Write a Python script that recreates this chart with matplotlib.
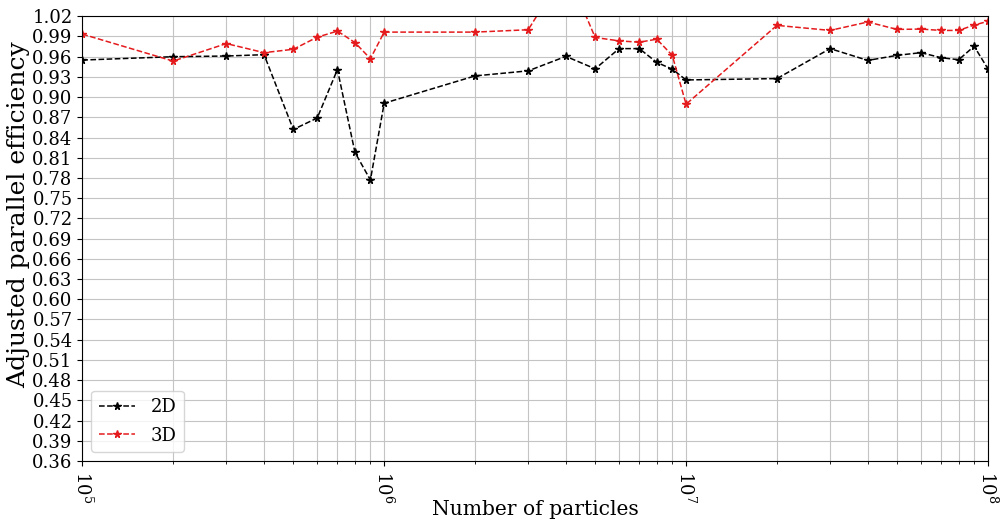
import numpy as np
import matplotlib
matplotlib.use("Agg")
import matplotlib.pyplot as plt

# particle counts (1..9 x 10^k, 1e5 .. 1e8)
particles = [1e5, 2e5, 3e5, 4e5, 5e5, 6e5, 7e5, 8e5, 9e5,
             1e6, 2e6, 3e6, 4e6, 5e6, 6e6, 7e6, 8e6, 9e6,
             1e7, 2e7, 3e7, 4e7, 5e7, 6e7, 7e7, 8e7, 9e7,
             1e8]

eff_2d = [0.955, 0.960, 0.961, 0.963, 0.852, 0.869, 0.941, 0.818, 0.777,
          0.891, 0.9315, 0.939, 0.9605, 0.942, 0.972, 0.972, 0.9515, 0.9415,
          0.9255, 0.9275, 0.972, 0.9545, 0.962, 0.966, 0.9585, 0.9555, 0.9755,
          0.942]

# 4e6 point is off the top of the axes in the original
eff_3d = [0.9935, 0.9535, 0.9795, 0.966, 0.971, 0.989, 0.998, 0.981, 0.957,
          0.9965, 0.9965, 1.000, 1.090, 0.9885, 0.9835, 0.9815, 0.986, 0.962,
          0.8895, 1.0065, 0.999, 1.0115, 1.0005, 1.001, 0.999, 0.999, 1.007,
          1.0125]

yticks = np.round(np.arange(0.36, 1.0201, 0.03), 2)

plt.rcParams['font.family'] = 'DejaVu Serif'
plt.rcParams['mathtext.fontset'] = 'dejavuserif'

fig, ax = plt.subplots(figsize=(10.04, 5.25), dpi=100)
ax.plot(particles, eff_2d, '--*', color='black', lw=1.1, ms=5.5, label='2D')
ax.plot(particles, eff_3d, '--*', color='#e41a1c', lw=1.1, ms=5.5, label='3D')

ax.set_xscale('log')
ax.set_xlim(1e5, 1e8)
ax.set_ylim(0.36, 1.02)
ax.set_yticks(yticks)
ax.set_yticklabels(['%.2f' % v for v in yticks], fontsize=13)
ax.tick_params(axis='x', labelsize=13, labelrotation=-90)
ax.grid(True, which='both', color='#c4c4c4', lw=0.8)
ax.set_axisbelow(True)

ax.set_xlabel('Number of particles', fontsize=14.6, labelpad=-2)
ax.set_ylabel('Adjusted parallel efficiency', fontsize=18)
ax.yaxis.set_label_coords(-0.058, 0.553)
ax.legend(loc='lower left', fontsize=13, handlelength=2.0, borderpad=0.4,
          labelspacing=0.6, handletextpad=0.9)

fig.subplots_adjust(left=0.082, right=0.984, top=0.969, bottom=0.122)
fig.savefig('out.png', dpi=100)
